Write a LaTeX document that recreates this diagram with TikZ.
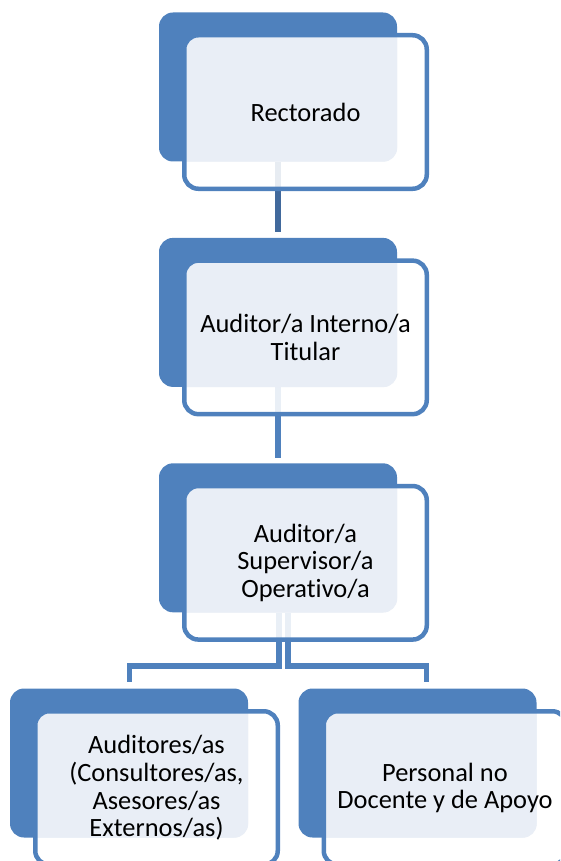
\documentclass[tikz,border=0pt]{standalone}
\usepackage{fontspec}
\setmainfont{Carlito}[Ligatures=NoCommon, RawFeature=-liga]
\usepackage{tikz}
\usetikzlibrary{
positioning,
}
\definecolor{smblue}{HTML}{4F81BD}
\definecolor{smdark}{HTML}{41699C}
\definecolor{panel}{HTML}{E9EEF6}
\tikzset{
node distance=76pt,
every node/.style={align=center},
back/.style={rectangle, rounded corners=14pt, fill=smblue,
  minimum width=238pt, minimum height=149pt},
front/.style={rectangle, rounded corners=14pt, draw=smblue, line width=4.5pt,
  fill=white, fill opacity=0.88, text opacity=1,
  minimum width=242.5pt, minimum height=153.5pt,
  font=\fontsize{26.4}{27.7}\selectfont,
  path picture={\fill[panel, fill opacity=1, rounded corners=14pt]
    (#1.south west) rectangle (#1.north east);}},
link/.style={draw=smblue, line width=5.5pt},
}

\begin{document}
\begin{tikzpicture}[x=1pt, y=1pt]
\clip (0,0) rectangle (560,-861);
% back plates
\node (rectorado) [back] at (278,-87) {};
\node (titular) [back, below=of rectorado] {};
\node (supervisor) [back, below=of titular] {};
\node (auditores) [back] at (129,-763) {};
\node (personal) [back] at (417.5,-763) {};
\coordinate (split) at (278,-666);
% connectors
\draw [link, draw=smdark, shorten >=5.5pt] (rectorado.south) -- (titular.north);
\draw [link, shorten >=5.5pt] (titular.south) -- (supervisor.north);
\draw [link, shorten >=6pt] ([xshift=1pt]supervisor.south) -- ([xshift=1pt]split)
  -| ([xshift=0.5pt]auditores.north);
\draw [link, shorten >=6pt] ([xshift=10pt]supervisor.south) -- ([xshift=10pt]split)
  -| ([xshift=9pt]personal.north);
% boxes with text
\node (rectorado-box) [front=rectorado] at ([shift={(27.5pt,-25pt)}]rectorado)
  {Rectorado};
\node (titular-box) [front=titular] at ([shift={(27.5pt,-25pt)}]titular)
  {Auditor/a Interno/a\\Titular};
\node (supervisor-box) [front=supervisor] at ([shift={(27.5pt,-25pt)}]supervisor)
  {Auditor/a\\Supervisor/a\\Operativo/a};
\node (auditores-box) [front=auditores] at ([shift={(27.5pt,-25pt)}]auditores)
  {Auditores/as\\(Consultores/as,\\Asesores/as\\Externos/as)};
\node (personal-box) [front=personal] at ([shift={(27.5pt,-25pt)}]personal)
  {Personal no\\Docente y de Apoyo};
\end{tikzpicture}
\end{document}
